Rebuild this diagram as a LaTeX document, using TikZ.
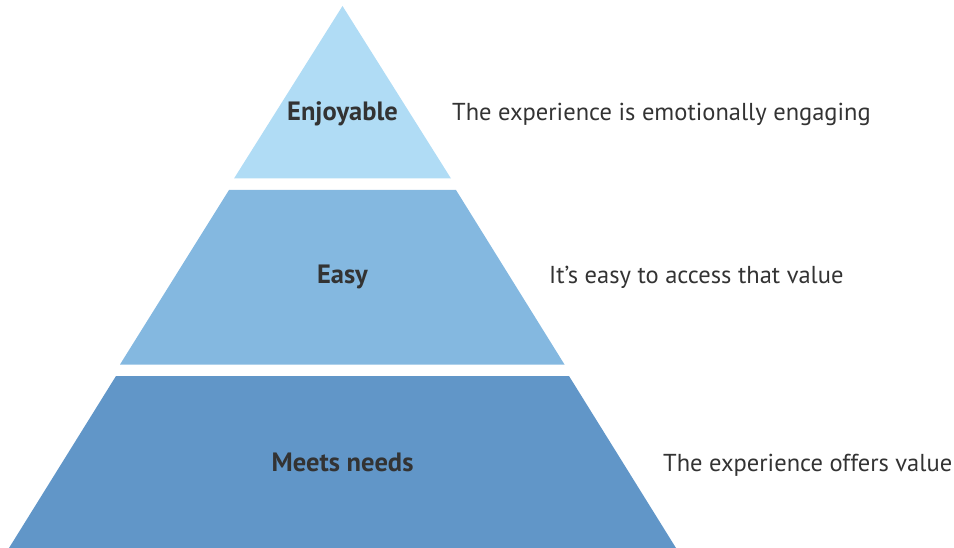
\documentclass[tikz,border=0pt]{standalone}
\usepackage{fontspec}
\setmainfont{PT Sans}
\usepackage{xcolor}
\definecolor{tiertop}{HTML}{B0DCF5}
\definecolor{tiermid}{HTML}{84B8E0}
\definecolor{tierlow}{HTML}{6196C8}
\definecolor{labelgray}{HTML}{333333}

\begin{document}
\begin{tikzpicture}[x=1pt, y=-1pt,
  tier/.style={font=\fontsize{26.5}{30}\selectfont\bfseries, text=labelgray, inner sep=0pt, anchor=base},
  note/.style={font=\fontsize{24.5}{28}\selectfont, text=labelgray, inner sep=0pt, anchor=base west}]
\useasboundingbox (0,0) rectangle (954,548);
% tiers
\fill[tiertop] (342.5,6) -- (451,178.5) -- (234,178.5) -- cycle;
\fill[tiermid] (229,190) -- (456,190) -- (564.5,364.5) -- (120,364.5) -- cycle;
\fill[tierlow] (116,376) -- (569,376) -- (676,548) -- (9,548) -- cycle;
% labels
\node[tier] (enjoy) at (342.5,120.5) {Enjoyable};
\node[tier] (easy) at (342.5,283.5) {Easy};
\node[tier] (needs) at (342.5,471) {Meets needs};
\node[note] (enjoynote) at (452,121) {The experience is emotionally engaging};
\node[note] (easynote) at (549,284) {It’s easy to access that value};
\node[note] (needsnote) at (663,471) {The experience offers value};
\end{tikzpicture}
\end{document}
